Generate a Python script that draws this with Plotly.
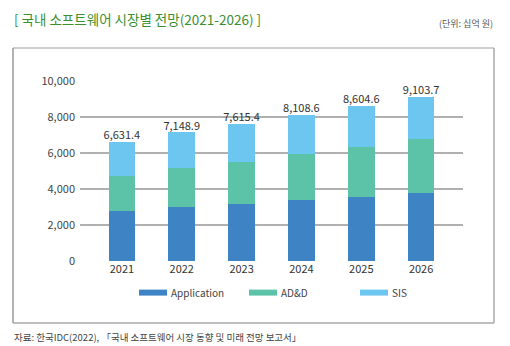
import plotly.graph_objects as go

years = ["2021", "2022", "2023", "2024", "2025", "2026"]
application = [2785, 2990, 3190, 3395, 3560, 3800]
add = [1955, 2160, 2325, 2530, 2785, 2990]
totals = [6631.4, 7148.9, 7615.4, 8108.6, 8604.6, 9103.7]
sis = [round(t - a - d, 1) for t, a, d in zip(totals, application, add)]
total_labels = ["6,631.4", "7,148.9", "7,615.4", "8,108.6", "8,604.6", "9,103.7"]
series_names = ["Application", "AD&D", "SIS"]
colors = ["#3e83c4", "#5cc3a9", "#6cc6f0"]

W, H = 510, 346
L, R, T, B = 80, 463, 80.7, 261.3  # plot area in px

FONT = "Noto Sans CJK KR"

fig = go.Figure()
for name, vals, c in zip(series_names, [application, add, sis], colors):
    fig.add_trace(go.Bar(x=years, y=vals, name=name, marker=dict(color=c, line=dict(width=0)),
                         width=0.445, showlegend=False, hoverinfo="y"))
# total labels
fig.add_trace(go.Scatter(x=years, y=totals, mode="text", text=total_labels,
                         textposition="top center", showlegend=False,
                         textfont=dict(family=FONT, size=11, color="#333333")))

def px_x(p):
    return (p - L) / (R - L)

def px_y(p):
    return (B - p) / (B - T)

shapes = [
    dict(type="line", xref="paper", yref="paper", x0=px_x(13), x1=px_x(494), y0=px_y(47.5), y1=px_y(47.5),
         line=dict(color="#cfcfcf", width=2)),
    dict(type="line", xref="paper", yref="paper", x0=px_x(13), x1=px_x(13), y0=px_y(47.5), y1=px_y(323.5),
         line=dict(color="#999999", width=1.5)),
    dict(type="line", xref="paper", yref="paper", x0=px_x(494), x1=px_x(494), y0=px_y(47.5), y1=px_y(323.5),
         line=dict(color="#aaaaaa", width=1.5)),
    dict(type="line", xref="paper", yref="paper", x0=px_x(13), x1=px_x(494), y0=px_y(323.5), y1=px_y(323.5),
         line=dict(color="#aaaaaa", width=1.5)),
]

annotations = [
    dict(text="[ 국내 소프트웨어 시장별 전망(2021-2026) ]", xref="paper", yref="paper",
         x=px_x(12), y=px_y(18), xanchor="left", yanchor="middle", showarrow=False,
         font=dict(family=FONT, size=13.5, color="#3b8f2f")),
    dict(text="(단위: 십억 원)", xref="paper", yref="paper",
         x=px_x(495), y=px_y(23), xanchor="right", yanchor="middle", showarrow=False,
         font=dict(family=FONT, size=9, color="#555555")),
    dict(text="자료: 한국IDC(2022), 「국내 소프트웨어 시장 동향 및 미래 전망 보고서」", xref="paper", yref="paper",
         x=px_x(12), y=px_y(338), xanchor="left", yanchor="middle", showarrow=False,
         font=dict(family=FONT, size=9.5, color="#444444")),
]

# manual legend with wide swatches
legend_x = [139, 249, 360]
for name, c, lx in zip(series_names, colors, legend_x):
    shapes.append(dict(type="rect", xref="paper", yref="paper", x0=px_x(lx), x1=px_x(lx + 28),
                       y0=px_y(296), y1=px_y(290), fillcolor=c, line=dict(width=0)))
    annotations.append(dict(text=name, xref="paper", yref="paper", x=px_x(lx + 30), y=px_y(293),
                            xanchor="left", yanchor="middle", showarrow=False,
                            font=dict(family=FONT, size=10, color="#444444")))

fig.update_layout(
    width=W, height=H,
    margin=dict(l=L, r=W - R, t=T, b=H - B, pad=0),
    paper_bgcolor="white", plot_bgcolor="white",
    barmode="stack", bargap=0.5, showlegend=False,
    font=dict(family=FONT, size=11, color="#444444"),
    xaxis=dict(type="category", range=[-0.7, 5.7], showgrid=False, showline=False, ticks="",
               tickfont=dict(family=FONT, size=11, color="#333333"), fixedrange=True),
    yaxis=dict(range=[0, 10000], tickvals=[0, 2000, 4000, 6000, 8000, 10000],
               ticktext=["0", "2,000", "4,000", "6,000", "8,000", "10,000"],
               showgrid=True, gridcolor="#b0b0b0", gridwidth=1.5, zeroline=False,
               showline=False, ticks="", ticklabelstandoff=4,
               tickfont=dict(family=FONT, size=11, color="#444444"), fixedrange=True),
    shapes=shapes, annotations=annotations,
)

fig.write_html("out.html")
